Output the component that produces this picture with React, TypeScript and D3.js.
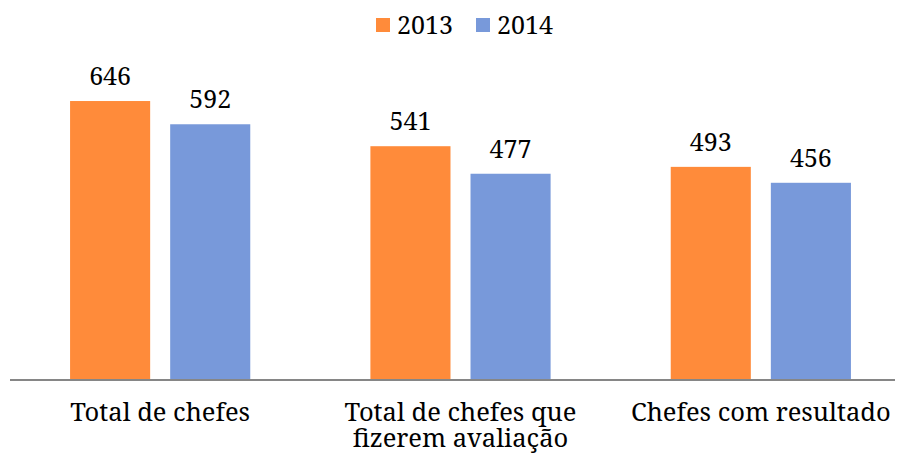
import React from "react";
import * as d3 from "d3";

const categories: string[][] = [
  ["Total de chefes"],
  ["Total de chefes que", "fizerem avaliação"],
  ["Chefes com resultado"],
];
const series = ["2013", "2014"];
const values2013 = [646, 541, 493];
const values2014 = [592, 477, 456];
const colors = ["#FF8B3A", "#7899DA"];

const W = 903;
const H = 461;
const FONT = "'Noto Serif', 'Liberation Serif', serif";

export default function App() {
  const x0 = d3.scaleBand<number>().domain([0, 1, 2]).range([10, 911]).paddingInner(0).paddingOuter(0);
  const x1 = d3.scaleBand<number>().domain([0, 1]).range([0, x0.bandwidth()]).paddingInner(0.2).paddingOuter(0.6);
  const y = d3.scaleLinear().domain([0, 700]).range([379, 379 - 700 * 0.4303]);
  const data = [values2013, values2014];
  return (
    <div style={{ margin: -8 }}>
      <svg width={W} height={H} style={{ display: "block", fontFamily: FONT }}>
        <rect width={W} height={H} fill="#fff" />
        {data.map((vals, s) =>
          vals.map((v, i) => {
            const bx = x0(i)! + x1(s)!;
            return (
              <g key={`${s}-${i}`}>
                <rect x={bx} y={y(v)} width={x1.bandwidth()} height={y(0) - y(v)} fill={colors[s]} />
                <text x={bx + x1.bandwidth() / 2} y={y(v) - 16} textAnchor="middle" fontSize={25} fill="#000">
                  {v}
                </text>
              </g>
            );
          })
        )}
        <line x1={10} x2={903} y1={380} y2={380} stroke="#868686" strokeWidth={2} />
        {categories.map((lines, i) => (
          <text key={i} x={x0(i)! + x0.bandwidth() / 2} textAnchor="middle" fontSize={25.5} fill="#000">
            {lines.map((l, j) => (
              <tspan key={j} x={x0(i)! + x0.bandwidth() / 2} y={421 + j * 26}>
                {l}
              </tspan>
            ))}
          </text>
        ))}
        {series.map((s, k) => (
          <g key={s} transform={`translate(${376 + k * 100},0)`}>
            <rect x={0} y={18} width={14} height={14} fill={colors[k]} />
            <text x={21} y={33.5} fontSize={25} fill="#000">{s}</text>
          </g>
        ))}
      </svg>
    </div>
  );
}
